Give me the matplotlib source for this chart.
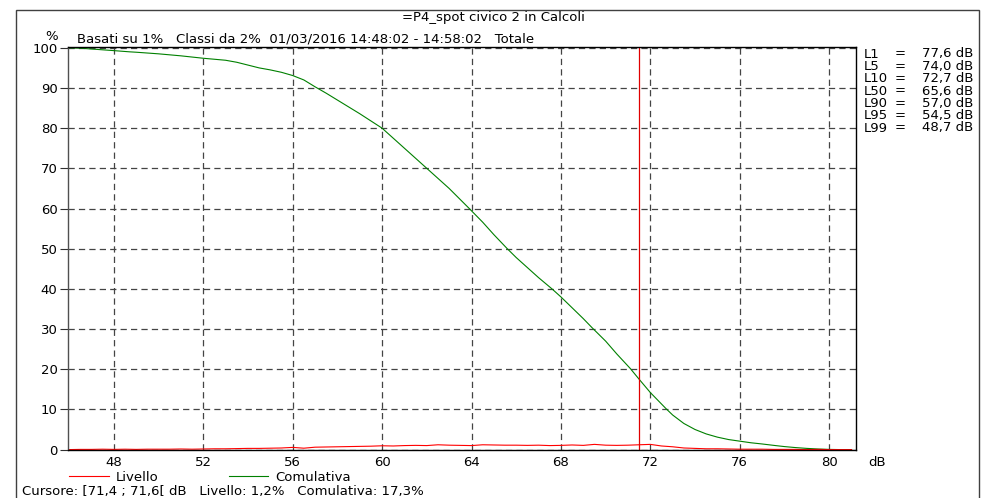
import matplotlib
matplotlib.use("Agg")
import matplotlib.pyplot as plt
from matplotlib.patches import Rectangle
from matplotlib.lines import Line2D

plt.rcParams['font.family'] = ['DejaVu Sans']
plt.rcParams['lines.scale_dashes'] = False

# cumulative distribution (% of time level exceeded)
cum_db = [46, 46.5, 47, 47.5, 48, 48.7, 49, 50, 51, 52, 53, 53.5, 54, 54.5, 55, 55.5,
          56, 56.5, 57, 57.5, 58, 58.5, 59, 59.5, 60, 61, 62, 63, 63.9, 64.5, 65,
          65.6, 66, 67, 67.6, 68, 69, 69.4, 70, 70.5, 71.1, 71.5, 72, 72.7, 73, 73.5,
          74, 74.5, 75, 75.5, 76, 76.5, 77, 77.6, 78, 78.5, 79, 79.5, 80, 80.5, 81]
cum_pct = [100, 99.9, 99.7, 99.5, 99.3, 99.0, 98.9, 98.5, 98.0, 97.4, 96.9, 96.4, 95.7,
           95.0, 94.5, 93.9, 93.1, 92.0, 90.3, 88.7, 87.0, 85.3, 83.6, 81.8, 80.0, 75.0,
           70.0, 65.0, 60.0, 56.6, 53.5, 50.0, 47.8, 42.8, 40.0, 38.0, 32.6, 30.3, 27.0,
           23.8, 20.2, 17.5, 14.2, 10.2, 8.6, 6.5, 5.0, 3.9, 3.1, 2.5, 2.1, 1.7, 1.4,
           1.0, 0.75, 0.5, 0.3, 0.15, 0.05, 0.0, 0.0]

# level distribution (%) per class, every 0.5 dB from 46 to 81
liv_db = [46 + 0.5 * i for i in range(71)]
liv_pct = [0.0, 0.05, 0.05, 0.1, 0.05, 0.1, 0.05, 0.1, 0.1, 0.1, 0.15, 0.1, 0.15, 0.2,
           0.2, 0.25, 0.3, 0.3, 0.35, 0.4, 0.55, 0.35, 0.6, 0.65, 0.7, 0.75, 0.8, 0.85,
           0.95, 0.9, 1.0, 1.05, 1.0, 1.2, 1.1, 1.05, 1.0, 1.2, 1.15, 1.1, 1.1, 1.05,
           1.1, 1.0, 1.05, 1.15, 1.05, 1.3, 1.1, 1.05, 1.1, 1.2, 1.3, 0.9, 0.7, 0.4,
           0.3, 0.2, 0.2, 0.15, 0.1, 0.1, 0.1, 0.05, 0.05, 0.05, 0.0, 0.05, 0.0, 0.0, 0.0]

cursor_db = 71.5
xticks = [48, 52, 56, 60, 64, 68, 72, 76, 80]
yticks = [0, 10, 20, 30, 40, 50, 60, 70, 80, 90, 100]
stats_names = ["L1", "L5", "L10", "L50", "L90", "L95", "L99"]
stats_vals = ["77,6 dB", "74,0 dB", "72,7 dB", "65,6 dB", "57,0 dB", "54,5 dB", "48,7 dB"]

FS = 9.5
W, H = 986, 498
fig = plt.figure(figsize=(W / 100, H / 100), dpi=100)


def px(x, y):
    return x / W, 1 - y / H


# outer frame
fig.patches.append(Rectangle(px(16, 520), (979 - 16) / W, (520 - 10) / H,
                             transform=fig.transFigure, fill=False,
                             edgecolor='#404040', lw=1.0))

l, b = px(68, 450)
r, t = px(856, 47)
ax = fig.add_axes([l, b, r - l, t - b])

ax.set_xlim(45.95, 81.2)
ax.set_ylim(-0.1, 100.2)
ax.set_xticks(xticks)
ax.set_yticks(yticks)
ax.set_xticklabels([str(v) for v in xticks], fontsize=FS)
ax.set_yticklabels([str(v) for v in yticks], fontsize=FS)
ax.tick_params(axis='x', length=0, pad=4)
ax.tick_params(axis='y', length=6, width=0.8, color='#303030', pad=1.5)
ax.grid(True, color='#444444', lw=0.9, dashes=(4.5, 3.0))
for s in ax.spines.values():
    s.set_linewidth(1.0)
    s.set_color('black')
ax.spines['left'].set_color('#505050')

ax.plot(cum_db, cum_pct, color='#008000', lw=0.8)
ax.plot(liv_db, liv_pct, color='#ff0000', lw=0.8)
ax.axvline(cursor_db, color='#e00000', lw=0.9)

# texts
fig.text(*px(493, 17), "=P4_spot civico 2 in Calcoli", fontsize=FS, ha='center', va='center')
fig.text(*px(52, 37), "%", fontsize=FS, ha='center', va='center')
fig.text(*px(77, 39), "Basati su 1%   Classi da 2%  01/03/2016 14:48:02 - 14:58:02   Totale",
         fontsize=FS, ha='left', va='center')
fig.text(*px(868, 462), "dB", fontsize=FS, ha='left', va='center')

for i, (n, v) in enumerate(zip(stats_names, stats_vals)):
    y = 54 + i * (128 - 54) / 6
    fig.text(*px(864, y), n, fontsize=FS, ha='left', va='center')
    fig.text(*px(895, y), "=", fontsize=FS, ha='left', va='center')
    fig.text(*px(973, y), v, fontsize=FS, ha='right', va='center')

# legend
fig.lines.append(Line2D([69 / W, 109 / W], [1 - 476 / H] * 2, transform=fig.transFigure,
                        color='#ff0000', lw=0.8))
fig.text(*px(116, 477), "Livello", fontsize=FS, ha='left', va='center')
fig.lines.append(Line2D([229 / W, 268 / W], [1 - 476 / H] * 2, transform=fig.transFigure,
                        color='#008000', lw=0.8))
fig.text(*px(275, 477), "Comulativa", fontsize=FS, ha='left', va='center')

fig.text(*px(22, 491), "Cursore: [71,4 ; 71,6[ dB   Livello: 1,2%   Comulativa: 17,3%",
         fontsize=FS, ha='left', va='center')

fig.savefig("out.png", dpi=100)
